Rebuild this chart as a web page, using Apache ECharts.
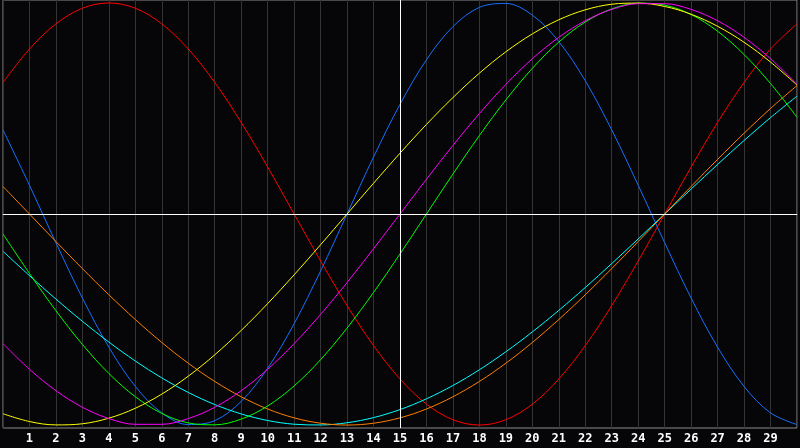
<!DOCTYPE html>
<html>
<head>
<meta charset="utf-8">
<script src="https://cdn.jsdelivr.net/npm/echarts@6.0.0/dist/echarts.min.js"></script>
<style>
  html, body { margin: 0; padding: 0; background: #060609; }
  #chart { width: 800px; height: 448px; }
</style>
</head>
<body>
<div id="chart"></div>
<script>
// days along the bottom (0..30), labels shown for 1..29
const days = [0,1,2,3,4,5,6,7,8,9,10,11,12,13,14,15,16,17,18,19,20,21,22,23,24,25,26,27,28,29,30];
const dayLabels = ['1','2','3','4','5','6','7','8','9','10','11','12','13','14','15','16','17','18','19','20','21','22','23','24','25','26','27','28','29'];

// cycle values, one per day
const redVals = [0.6235,0.7818,0.9010,0.9749,1.0000,0.9749,0.9010,0.7818,0.6235,0.4339,0.2225,0.0000,-0.2225,-0.4339,-0.6235,-0.7818,-0.9010,-0.9749,-1.0000,-0.9749,-0.9010,-0.7818,-0.6235,-0.4339,-0.2225,0.0000,0.2225,0.4339,0.6235,0.7818,0.9010];
const blueVals = [0.3984,0.1362,-0.1362,-0.3984,-0.6311,-0.8170,-0.9423,-0.9977,-0.9791,-0.8880,-0.7308,-0.5196,-0.2698,0.0000,0.2698,0.5196,0.7308,0.8880,0.9791,0.9977,0.9423,0.8170,0.6311,0.3984,0.1362,-0.1362,-0.3984,-0.6311,-0.8170,-0.9423,-0.9977];
const yellowVals = [-0.9465,-0.9834,-0.9993,-0.9940,-0.9675,-0.9204,-0.8533,-0.7685,-0.6673,-0.5517,-0.4245,-0.2881,-0.1456,0.0000,0.1456,0.2881,0.4245,0.5517,0.6673,0.7685,0.8533,0.9204,0.9675,0.9940,0.9993,0.9834,0.9465,0.8894,0.8136,0.7199,0.6111];
const magentaVals = [-0.6142,-0.7357,-0.8372,-0.9158,-0.9694,-0.9966,-0.9966,-0.9694,-0.9158,-0.8372,-0.7357,-0.6142,-0.4759,-0.3247,-0.1646,0.0000,0.1646,0.3247,0.4759,0.6142,0.7357,0.8372,0.9158,0.9694,0.9966,0.9966,0.9694,0.9158,0.8372,0.7357,0.6142];
const greenVals = [-0.0950,-0.2817,-0.4582,-0.6182,-0.7557,-0.8660,-0.9450,-0.9898,-0.9989,-0.9718,-0.9096,-0.8146,-0.6901,-0.5406,-0.3717,-0.1893,0.0000,0.1893,0.3717,0.5406,0.6901,0.8146,0.9096,0.9718,0.9989,0.9898,0.9450,0.8660,0.7557,0.6182,0.4582];
const orangeVals = [0.1305,0.0000,-0.1305,-0.2588,-0.3827,-0.5000,-0.6088,-0.7071,-0.7934,-0.8660,-0.9239,-0.9659,-0.9914,-1.0000,-0.9914,-0.9659,-0.9239,-0.8660,-0.7934,-0.7071,-0.6088,-0.5000,-0.3827,-0.2588,-0.1305,0.0000,0.1305,0.2588,0.3827,0.5000,0.6088];
const cyanVals = [-0.1769,-0.2920,-0.4031,-0.5085,-0.6069,-0.6965,-0.7765,-0.8456,-0.9028,-0.9473,-0.9785,-0.9961,-0.9996,-0.9891,-0.9647,-0.9267,-0.8757,-0.8126,-0.7380,-0.6527,-0.5585,-0.4566,-0.3482,-0.2348,-0.1183,0.0000,0.1183,0.2348,0.3482,0.4566,0.5585];

const chart = echarts.init(document.getElementById('chart'));

function pairs(vals) {
    return days.map((d, i) => [d, vals[i]]);
}

function curve(name, color, vals) {
    return {
        name: name,
        type: 'line',
        data: pairs(vals),
        smooth: 0.35,
        showSymbol: false,
        lineStyle: { color: color, width: 1 },
        itemStyle: { color: color },
        z: 3
    };
}

const option = {
    backgroundColor: '#060609',
    animation: false,
    grid: {
        left: 0, right: 0, top: 0, bottom: 20,
        show: true,
        borderColor: '#8c8c8c',
        borderWidth: 1,
        backgroundColor: 'transparent'
    },
    xAxis: {
        type: 'value',
        min: 0,
        max: 30,
        interval: 1,
        axisLine: { show: true, lineStyle: { color: '#a8a8a8', width: 1 } },
        axisTick: { show: false },
        splitLine: { show: true, lineStyle: { color: '#333333', width: 1 } },
        axisLabel: {
            color: '#ffffff',
            fontFamily: 'DejaVu Sans Mono',
            fontWeight: 'bold',
            fontSize: 12,
            margin: 5,
            formatter: function (v) {
                return (v >= 1 && v <= 29) ? dayLabels[v - 1] : '';
            }
        }
    },
    yAxis: {
        type: 'value',
        min: -1.014,
        max: 1.014,
        show: false,
        splitLine: { show: false }
    },
    series: [
        {
            name: 'axes',
            type: 'line',
            data: [],
            z: 2,
            markLine: {
                silent: true,
                symbol: 'none',
                label: { show: false },
                lineStyle: { color: '#ffffff', width: 1, type: 'solid' },
                data: [{ xAxis: 15 }, { yAxis: 0 }]
            }
        },
        curve('red', '#ff0000', redVals),
        curve('blue', '#1670ff', blueVals),
        curve('cyan', '#00ffff', cyanVals),
        curve('orange', '#ff8000', orangeVals),
        curve('green', '#00ff00', greenVals),
        curve('yellow', '#ffff00', yellowVals),
        curve('magenta', '#ff00ff', magentaVals)
    ]
};

chart.setOption(option);
</script>
</body>
</html>
